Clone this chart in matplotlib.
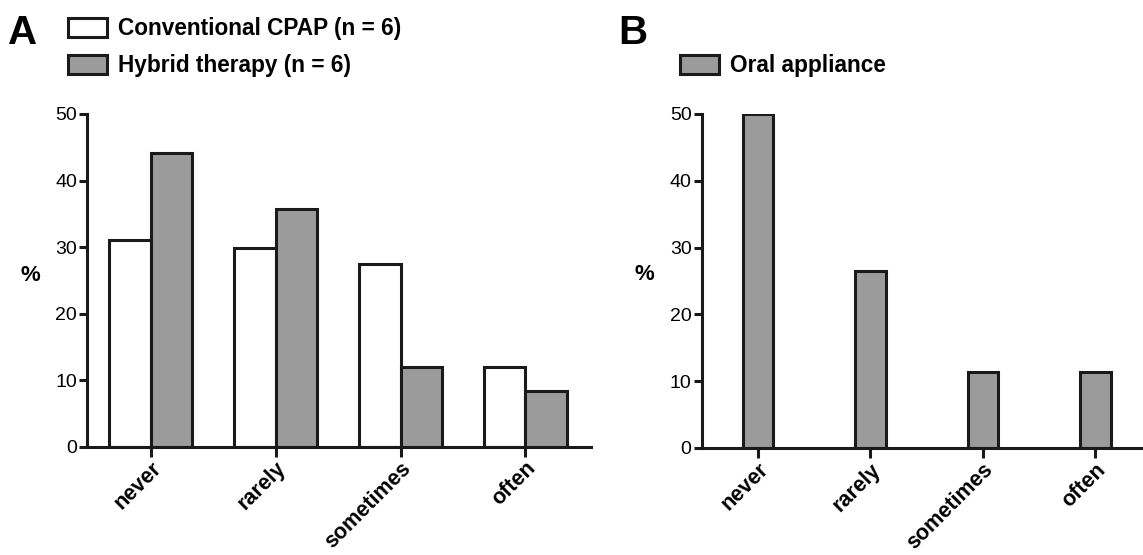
import matplotlib
matplotlib.use("Agg")
import matplotlib.pyplot as plt
import numpy as np
from matplotlib.patches import Patch

categories = ["never", "rarely", "sometimes", "often"]
cpap = [31.1, 29.9, 27.5, 12.0]
hybrid = [44.2, 35.7, 12.0, 8.3]
oral = [50.0, 26.5, 11.4, 11.4]
yticks = [0, 10, 20, 30, 40, 50]

plt.rcParams['font.family'] = ['Liberation Sans', 'DejaVu Sans']

GRAY = "#9b9b9b"
EDGE = "#1a1a1a"
LW = 2.2

fig = plt.figure(figsize=(11.43, 5.55), dpi=100)
axA = fig.add_axes([87.3/1143, 1-446.7/555, (591-87.3)/1143, (446.7-114)/555])
axB = fig.add_axes([702/1143, 1-448/555, (1142-702)/1143, (448-114)/555])

x = np.arange(len(categories))

def style(ax, lx, ly):
    for s in ["top", "right"]:
        ax.spines[s].set_visible(False)
    for s in ["left", "bottom"]:
        ax.spines[s].set_linewidth(LW)
        ax.spines[s].set_color(EDGE)
    ax.set_ylim(0, 50)
    ax.set_yticks(yticks)
    ax.tick_params(axis='y', direction='out', length=5.5, width=LW, labelsize=14, pad=2, color=EDGE)
    ax.tick_params(axis='x', direction='out', length=7.5, width=LW, color=EDGE, pad=0.5)
    ax.set_xticks(x)
    ax.set_xticklabels(categories, rotation=45, ha='right', va='top',
                       rotation_mode='anchor', fontsize=15.5, fontweight='bold')
    ax.set_ylabel('%', rotation=0, fontsize=16, fontweight='bold', ha='center', va='center')
    ax.yaxis.set_label_coords(lx, ly)

w = 0.332
axA.bar(x - w/2, cpap, width=w, color='white', edgecolor=EDGE, linewidth=LW)
axA.bar(x + w/2, hybrid, width=w, color=GRAY, edgecolor=EDGE, linewidth=LW)
axA.set_xlim(-0.508, 3.525)
style(axA, -0.114, 0.516)

axB.bar(x, oral, width=0.27, color=GRAY, edgecolor=EDGE, linewidth=LW)
axB.set_xlim(-0.498, 3.415)
style(axB, -0.132, 0.518)

legA = fig.legend(handles=[Patch(facecolor='white', edgecolor=EDGE, linewidth=LW, label='Conventional CPAP (n = 6)'),
                           Patch(facecolor=GRAY, edgecolor=EDGE, linewidth=LW, label='Hybrid therapy (n = 6)')],
                  loc='upper left', bbox_to_anchor=(68/1143, 1-17/555), frameon=False,
                  prop={'size': 16.3, 'weight': 'bold'}, handlelength=1.71, handleheight=0.9,
                  handletextpad=0.5, labelspacing=0.62, borderpad=0, borderaxespad=0)
legB = fig.legend(handles=[Patch(facecolor=GRAY, edgecolor=EDGE, linewidth=LW, label='Oral appliance')],
                  loc='upper left', bbox_to_anchor=(680/1143, 1-54/555), frameon=False,
                  prop={'size': 16.3, 'weight': 'bold'}, handlelength=1.71, handleheight=0.9,
                  handletextpad=0.5, labelspacing=0.62, borderpad=0, borderaxespad=0)

fig.text(8/1143, 1-44/555, 'A', fontsize=29, fontweight='bold', ha='left', va='baseline')
fig.text(618/1143, 1-44/555, 'B', fontsize=29, fontweight='bold', ha='left', va='baseline')

fig.savefig('out.png', dpi=100)
